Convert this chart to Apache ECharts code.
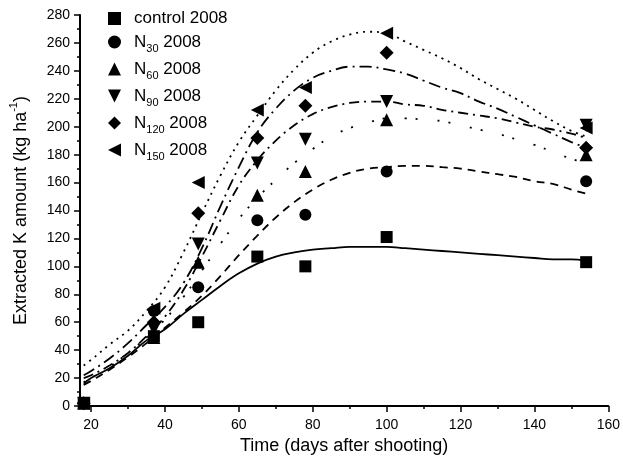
<!DOCTYPE html>
<html>
<head>
<meta charset="utf-8">
<script src="https://cdn.jsdelivr.net/npm/echarts@6/dist/echarts.min.js"></script>
<style>html,body{margin:0;padding:0;background:#fff}#c{width:623px;height:460px}</style>
</head>
<body>
<div id="c"></div>
<script>
// Measured data (days after shooting)
const days = [18, 37, 49, 65, 78, 100, 154];
const control = [2, 50, 60, 107, 100, 121, 103];
const n30 = [2, 68, 85, 133, 137, 168, 161];
const n60 = [2, 49, 103, 151, 168, 205, 180];
const n90 = [2, 55, 116, 174, 191, 218, 201];
const n120 = [2, 60, 138, 192, 215, 253, 185];
const n150 = [2, 70, 160, 212, 228, 267, 199];

// Fitted curves
const fitDays = [18,20,25,30,35,40,45,50,55,60,65,70,75,80,85,90,95,100,105,110,115,120,125,130,135,140,145,150,154];
const controlFit = [16,20,27,36,47,55,66,76,86,95,102,107,110,112,113,114,114,114,113,112,111,110,109,108,107,106,105,105,104];
const n30Fit = [15,18,26,35,45,56,67,79,93,108,122,135,146,155,162,167,170,171,172,172,171,170,168,166,164,161,159,155,152];
const n60Fit = [17,20,28,38,49,62,78,97,116,134,149,162,174,184,193,199,203,206,206,205,204,201,198,195,191,187,182,177,174];
const n90Fit = [20,22,29,38,50,64,83,107,133,158,176,190,201,209,214,217,218,218,216,215,212,210,208,206,203,200,198,195,192];
const n120Fit = [22,25,34,45,58,71,88,113,143,171,196,213,226,235,240,243,243,241,238,233,228,224,218,213,207,201,195,189,185];
const n150Fit = [29,33,44,54,68,85,110,138,165,189,208,226,241,253,261,266,268,267,261,255,249,242,234,227,220,212,204,197,193];

const xMajor = [20, 40, 60, 80, 100, 120, 140, 160];
const xMinor = [30, 50, 70, 90, 110, 130, 150];

const names = ['control 2008', 'N30 2008', 'N60 2008', 'N90 2008', 'N120 2008', 'N150 2008'];
const pts = [control, n30, n60, n90, n120, n150];
const fits = [controlFit, n30Fit, n60Fit, n90Fit, n120Fit, n150Fit];
const symbols = ['rect', 'circle', 'triangle', 'triangle', 'diamond', 'triangle'];
const legendIcons = ['rect', 'circle', 'triangle', 'path://M0,0 L10,0 L5,10 Z', 'diamond', 'path://M10,0 L10,10 L0,5 Z'];
const rot = [0, 0, 0, 180, 0, 90];
const sizes = [12, 12, 13, 13, 14, 13];
const dashes = ['solid', [8, 6], [2, 9, 2, 20], [10, 5, 2, 5], [12, 5, 2, 5], [2, 5]];

const FONT = 'Liberation Sans, Arial, sans-serif';
const series = [];
names.forEach((nm, i) => {
  series.push({
    name: nm + '_fit', type: 'line', smooth: 0.4, showSymbol: false, symbol: 'none',
    data: fitDays.map((d, k) => [d, fits[i][k]]),
    lineStyle: { color: '#000', width: 1.8, type: dashes[i] },
    silent: true, z: 2
  });
});
names.forEach((nm, i) => {
  series.push({
    name: nm, type: 'scatter', symbol: symbols[i], symbolRotate: rot[i], symbolSize: sizes[i],
    data: days.map((d, k) => [d, pts[i][k]]),
    itemStyle: { color: '#000', opacity: 1 }, z: 5
  });
});

const chart = echarts.init(document.getElementById('c'), null, { renderer: 'canvas' });
chart.setOption({
  animation: false,
  backgroundColor: '#fff',
  textStyle: { fontFamily: FONT },
  grid: { left: 80, right: 13, top: 15, bottom: 54 },
  legend: {
    data: names.map((n, i) => ({ name: n, icon: legendIcons[i], itemStyle: { color: '#000', opacity: 1 } })),
    orient: 'vertical', left: 103, top: 5, itemWidth: 13, itemHeight: 13, itemGap: 6.5,
    formatter: function (name) {
      const m = name.match(/^N(\d+) 2008$/);
      if (m) return '{n|N}{s|' + m[1] + '}{n| 2008}';
      return '{n|' + name + '}';
    },
    textStyle: {
      padding: [0, 0, 0, 8],
      rich: {
        n: { fontSize: 17, lineHeight: 24, fontFamily: FONT, color: '#000', verticalAlign: 'middle' },
        s: { fontSize: 11, lineHeight: 12, fontFamily: FONT, color: '#000', verticalAlign: 'bottom' }
      }
    }
  },
  xAxis: [{
    type: 'value', min: 17, max: 160,
    name: 'Time (days after shooting)', nameLocation: 'middle', nameGap: 30,
    nameTextStyle: { fontSize: 18, color: '#000', fontFamily: FONT },
    axisLine: { show: true, onZero: false, lineStyle: { color: '#000', width: 2 } },
    axisTick: { show: true, inside: false, length: 6, customValues: xMajor, lineStyle: { color: '#000', width: 1.5 } },
    axisLabel: { customValues: xMajor, fontSize: 14, color: '#000', margin: 12, fontFamily: FONT },
    splitLine: { show: false }
  }, {
    type: 'value', min: 17, max: 160, position: 'bottom',
    axisLine: { show: false },
    axisTick: { show: true, inside: false, length: 3, customValues: xMinor, lineStyle: { color: '#000', width: 1.5 } },
    axisLabel: { show: false },
    splitLine: { show: false }
  }],
  yAxis: {
    type: 'value', min: 0, max: 280, interval: 20,
    name: '{a|Extracted K amount (kg ha}{b|-1}{a|)}', nameLocation: 'middle', nameGap: 50,
    nameTextStyle: {
      rich: {
        a: { fontSize: 18, color: '#000', fontFamily: FONT, lineHeight: 22, verticalAlign: 'bottom' },
        b: { fontSize: 11, color: '#000', fontFamily: FONT, lineHeight: 22, verticalAlign: 'top' }
      }
    },
    axisLine: { show: true, lineStyle: { color: '#000', width: 2 } },
    axisTick: { show: true, inside: false, length: 6, lineStyle: { color: '#000', width: 1.5 } },
    minorTick: { show: true, splitNumber: 2, length: 3, lineStyle: { color: '#000', width: 1.5 } },
    axisLabel: { fontSize: 14, color: '#000', margin: 10, fontFamily: FONT },
    splitLine: { show: false }
  },
  series: series
});
</script>
</body>
</html>
